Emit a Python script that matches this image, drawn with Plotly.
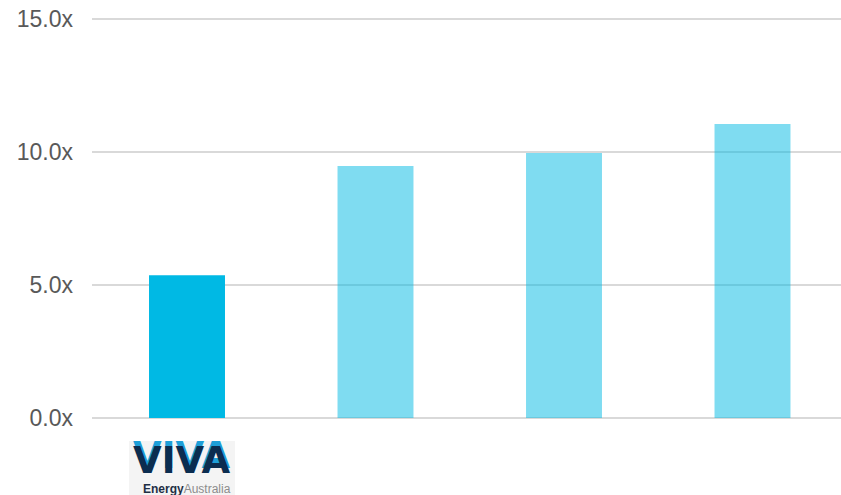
import plotly.graph_objects as go

# EV/EBITDA multiples
companies = ["Viva Energy", "Peer A", "Peer B", "Peer C"]
multiples = [5.37, 9.47, 9.96, 11.05]
bar_opacity = [1.0, 0.5, 0.5, 0.5]
tick_vals = [0, 5, 10, 15]
tick_text = ["0.0x", "5.0x", "10.0x", "15.0x"]

W, H = 841, 495
M_L, M_R, M_T, M_B = 92, 0, 17, 75
plot_w = W - M_L - M_R
plot_h = H - M_T - M_B


def px_x(p):
    return (p - M_L) / plot_w


def px_y(p):
    return (H - M_B - p) / plot_h


fig = go.Figure(
    go.Bar(
        x=list(range(len(companies))),
        y=multiples,
        width=0.403,
        marker=dict(color="#00B9E4", opacity=bar_opacity, line=dict(width=0)),
        hovertext=companies,
    )
)

fig.update_layout(
    width=W,
    height=H,
    margin=dict(l=M_L, r=M_R, t=M_T, b=M_B, pad=0),
    paper_bgcolor="white",
    plot_bgcolor="white",
    showlegend=False,
    xaxis=dict(
        range=[-0.504, 3.4695],
        showticklabels=False,
        showgrid=False,
        zeroline=False,
        showline=False,
        ticks="",
    ),
    yaxis=dict(
        # small padding so the 0 and 15 gridlines are kept
        range=[-0.075, 15.075],
        tickvals=tick_vals,
        ticktext=tick_text,
        showgrid=True,
        gridcolor="#D9D9D9",
        gridwidth=2,
        zeroline=False,
        showline=False,
        ticks="",
        ticklabelstandoff=18,
        tickfont=dict(family="Liberation Sans, Arial", size=23, color="#595959"),
    ),
)

# Company logo beneath the first bar
fig.add_shape(
    type="rect",
    xref="paper",
    yref="paper",
    x0=px_x(129),
    x1=px_x(235),
    y0=px_y(441),
    y1=px_y(495),
    fillcolor="#F4F4F4",
    line=dict(width=0),
    layer="below",
)
fig.add_annotation(
    xref="paper",
    yref="paper",
    x=px_x(182),
    y=px_y(460),
    text="<b>VIVA</b>",
    showarrow=False,
    xanchor="center",
    yanchor="middle",
    borderpad=0,
    font=dict(
        family="DejaVu Sans",
        size=37,
        color="#0B2D50",
        shadow="0px -5px 0px #1E9FD8",
    ),
)
fig.add_annotation(
    xref="paper",
    yref="paper",
    x=px_x(187),
    y=px_y(489),
    text="<b>Energy</b><span style='color:#8C8C8C'>Australia</span>",
    showarrow=False,
    xanchor="center",
    yanchor="middle",
    borderpad=0,
    font=dict(family="Liberation Sans, Arial", size=12, color="#1F2F45"),
)

fig.write_html("out.html")
